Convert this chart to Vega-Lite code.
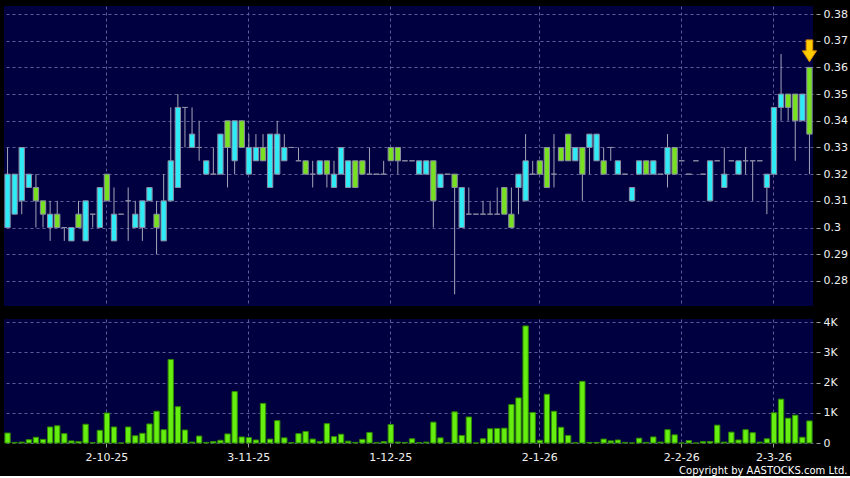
{
  "$schema": "https://vega.github.io/schema/vega-lite/v6.json",
  "background": "#000000",
  "padding": {"left": 4, "top": 6, "right": 4, "bottom": 0},
  "config": {
    "view": {"fill": "#000040", "stroke": null},
    "axis": {"domain": false, "gridColor": "#5c5c96", "gridDash": [3, 3], "gridWidth": 1, "tickColor": "#a0a0a0", "tickSize": 4, "labelColor": "#f0f0f0", "labelFont": "DejaVu Sans", "labelFontSize": 11, "title": null},
    "concat": {"spacing": 10}
  },
  "title": {"text": "Copyright by AASTOCKS.com Ltd.", "orient": "bottom", "anchor": "end", "color": "#ffffff", "fontSize": 10, "fontWeight": "normal", "font": "DejaVu Sans", "offset": 4},
  "datasets": {
    "d": [
{"i":0,"o":0.30,"c":0.32,"h":0.33,"l":0.30,"v":0.33},
{"i":1,"o":0.305,"c":0.32,"h":0.32,"l":0.305,"v":0.02},
{"i":2,"o":0.31,"c":0.33,"h":0.33,"l":0.305,"v":0.03},
{"i":3,"o":0.315,"c":0.32,"h":0.32,"l":0.315,"v":0.11},
{"i":4,"o":0.315,"c":0.31,"h":0.32,"l":0.30,"v":0.19},
{"i":5,"o":0.31,"c":0.305,"h":0.31,"l":0.30,"v":0.12},
{"i":6,"o":0.30,"c":0.305,"h":0.31,"l":0.295,"v":0.53},
{"i":7,"o":0.305,"c":0.30,"h":0.31,"l":0.30,"v":0.57},
{"i":8,"o":0.30,"c":0.30,"h":0.30,"l":0.295,"v":0.31},
{"i":9,"o":0.295,"c":0.30,"h":0.30,"l":0.295,"v":0.07},
{"i":10,"o":0.305,"c":0.30,"h":0.31,"l":0.30,"v":0.05},
{"i":11,"o":0.295,"c":0.31,"h":0.31,"l":0.295,"v":0.62},
{"i":12,"o":0.305,"c":0.305,"h":0.305,"l":0.30,"v":0.01},
{"i":13,"o":0.30,"c":0.315,"h":0.315,"l":0.30,"v":0.42},
{"i":14,"o":0.32,"c":0.31,"h":0.32,"l":0.31,"v":0.99},
{"i":15,"o":0.295,"c":0.305,"h":0.315,"l":0.295,"v":0.53},
{"i":16,"o":0.305,"c":0.305,"h":0.305,"l":0.305,"v":0},
{"i":17,"o":0.31,"c":0.31,"h":0.315,"l":0.295,"v":0.53},
{"i":18,"o":0.30,"c":0.305,"h":0.31,"l":0.30,"v":0.24},
{"i":19,"o":0.30,"c":0.31,"h":0.31,"l":0.295,"v":0.32},
{"i":20,"o":0.31,"c":0.315,"h":0.315,"l":0.31,"v":0.63},
{"i":21,"o":0.305,"c":0.30,"h":0.31,"l":0.29,"v":1.05},
{"i":22,"o":0.295,"c":0.31,"h":0.32,"l":0.295,"v":0.44},
{"i":23,"o":0.31,"c":0.325,"h":0.345,"l":0.31,"v":2.76},
{"i":24,"o":0.315,"c":0.345,"h":0.35,"l":0.315,"v":1.2},
{"i":25,"o":0.345,"c":0.345,"h":0.345,"l":0.33,"v":0.43},
{"i":26,"o":0.33,"c":0.335,"h":0.345,"l":0.33,"v":0.03},
{"i":27,"o":0.33,"c":0.33,"h":0.34,"l":0.325,"v":0.23},
{"i":28,"o":0.32,"c":0.325,"h":0.325,"l":0.32,"v":0.02},
{"i":29,"o":0.32,"c":0.32,"h":0.33,"l":0.32,"v":0.05},
{"i":30,"o":0.32,"c":0.335,"h":0.335,"l":0.32,"v":0.09},
{"i":31,"o":0.34,"c":0.33,"h":0.34,"l":0.315,"v":0.30},
{"i":32,"o":0.325,"c":0.34,"h":0.34,"l":0.32,"v":1.70},
{"i":33,"o":0.34,"c":0.33,"h":0.34,"l":0.33,"v":0.20},
{"i":34,"o":0.32,"c":0.33,"h":0.335,"l":0.32,"v":0.18},
{"i":35,"o":0.325,"c":0.33,"h":0.335,"l":0.325,"v":0.10},
{"i":36,"o":0.33,"c":0.325,"h":0.335,"l":0.325,"v":1.31},
{"i":37,"o":0.315,"c":0.335,"h":0.335,"l":0.315,"v":0.13},
{"i":38,"o":0.32,"c":0.335,"h":0.34,"l":0.32,"v":0.74},
{"i":39,"o":0.325,"c":0.33,"h":0.335,"l":0.325,"v":0.17},
{"i":40,"o":0.33,"c":0.33,"h":0.33,"l":0.33,"v":0.01},
{"i":41,"o":0.325,"c":0.325,"h":0.33,"l":0.325,"v":0.31},
{"i":42,"o":0.325,"c":0.32,"h":0.325,"l":0.32,"v":0.38},
{"i":43,"o":0.32,"c":0.32,"h":0.325,"l":0.315,"v":0.13},
{"i":44,"o":0.32,"c":0.325,"h":0.325,"l":0.32,"v":0.05},
{"i":45,"o":0.325,"c":0.32,"h":0.325,"l":0.315,"v":0.64},
{"i":46,"o":0.315,"c":0.32,"h":0.325,"l":0.315,"v":0.21},
{"i":47,"o":0.32,"c":0.33,"h":0.33,"l":0.32,"v":0.29},
{"i":48,"o":0.315,"c":0.325,"h":0.325,"l":0.315,"v":0.06},
{"i":49,"o":0.325,"c":0.315,"h":0.325,"l":0.315,"v":0.02},
{"i":50,"o":0.325,"c":0.32,"h":0.325,"l":0.32,"v":0.12},
{"i":51,"o":0.32,"c":0.32,"h":0.33,"l":0.32,"v":0.35},
{"i":52,"o":0.32,"c":0.32,"h":0.32,"l":0.32,"v":0.01},
{"i":53,"o":0.32,"c":0.32,"h":0.325,"l":0.32,"v":0.05},
{"i":54,"o":0.33,"c":0.325,"h":0.33,"l":0.325,"v":0.61},
{"i":55,"o":0.33,"c":0.325,"h":0.33,"l":0.32,"v":0.03},
{"i":56,"o":0.325,"c":0.325,"h":0.325,"l":0.325,"v":0.02},
{"i":57,"o":0.325,"c":0.325,"h":0.325,"l":0.325,"v":0.14},
{"i":58,"o":0.32,"c":0.325,"h":0.325,"l":0.32,"v":0.01},
{"i":59,"o":0.32,"c":0.325,"h":0.325,"l":0.32,"v":0.03},
{"i":60,"o":0.325,"c":0.31,"h":0.325,"l":0.30,"v":0.69},
{"i":61,"o":0.315,"c":0.32,"h":0.32,"l":0.315,"v":0.17},
{"i":62,"o":0.32,"c":0.32,"h":0.32,"l":0.32,"v":0},
{"i":63,"o":0.32,"c":0.315,"h":0.32,"l":0.275,"v":1.03},
{"i":64,"o":0.30,"c":0.315,"h":0.315,"l":0.30,"v":0.25},
{"i":65,"o":0.305,"c":0.305,"h":0.315,"l":0.305,"v":0.86},
{"i":66,"o":0.305,"c":0.305,"h":0.305,"l":0.305,"v":0},
{"i":67,"o":0.305,"c":0.305,"h":0.31,"l":0.305,"v":0.14},
{"i":68,"o":0.305,"c":0.305,"h":0.31,"l":0.305,"v":0.47},
{"i":69,"o":0.305,"c":0.305,"h":0.315,"l":0.305,"v":0.48},
{"i":70,"o":0.315,"c":0.305,"h":0.315,"l":0.305,"v":0.49},
{"i":71,"o":0.305,"c":0.30,"h":0.315,"l":0.30,"v":1.27},
{"i":72,"o":0.315,"c":0.32,"h":0.32,"l":0.305,"v":1.49},
{"i":73,"o":0.31,"c":0.325,"h":0.335,"l":0.31,"v":3.87},
{"i":74,"o":0.32,"c":0.32,"h":0.325,"l":0.32,"v":1.01},
{"i":75,"o":0.325,"c":0.32,"h":0.325,"l":0.32,"v":0.09},
{"i":76,"o":0.33,"c":0.315,"h":0.33,"l":0.315,"v":1.61},
{"i":77,"o":0.32,"c":0.32,"h":0.335,"l":0.315,"v":1.05},
{"i":78,"o":0.33,"c":0.325,"h":0.33,"l":0.325,"v":0.52},
{"i":79,"o":0.335,"c":0.325,"h":0.335,"l":0.325,"v":0.25},
{"i":80,"o":0.325,"c":0.33,"h":0.33,"l":0.325,"v":0.01},
{"i":81,"o":0.33,"c":0.32,"h":0.33,"l":0.31,"v":2.04},
{"i":82,"o":0.33,"c":0.335,"h":0.335,"l":0.32,"v":0.02},
{"i":83,"o":0.325,"c":0.335,"h":0.335,"l":0.325,"v":0.02},
{"i":84,"o":0.325,"c":0.32,"h":0.33,"l":0.32,"v":0.13},
{"i":85,"o":0.33,"c":0.33,"h":0.33,"l":0.325,"v":0.07},
{"i":86,"o":0.32,"c":0.325,"h":0.325,"l":0.32,"v":0.10},
{"i":87,"o":0.32,"c":0.32,"h":0.32,"l":0.32,"v":0.02},
{"i":88,"o":0.31,"c":0.315,"h":0.315,"l":0.31,"v":0},
{"i":89,"o":0.32,"c":0.325,"h":0.325,"l":0.32,"v":0.16},
{"i":90,"o":0.325,"c":0.32,"h":0.325,"l":0.32,"v":0.02},
{"i":91,"o":0.32,"c":0.325,"h":0.325,"l":0.32,"v":0.20},
{"i":92,"o":0.32,"c":0.32,"h":0.32,"l":0.32,"v":0.03},
{"i":93,"o":0.32,"c":0.33,"h":0.335,"l":0.315,"v":0.44},
{"i":94,"o":0.33,"c":0.32,"h":0.33,"l":0.32,"v":0.27},
{"i":95,"o":0.325,"c":0.325,"h":0.325,"l":0.325,"v":0},
{"i":96,"o":0.32,"c":0.32,"h":0.32,"l":0.32,"v":0.08},
{"i":97,"o":0.325,"c":0.325,"h":0.325,"l":0.325,"v":0},
{"i":98,"o":0.32,"c":0.32,"h":0.32,"l":0.32,"v":0.05},
{"i":99,"o":0.31,"c":0.325,"h":0.325,"l":0.31,"v":0.05},
{"i":100,"o":0.325,"c":0.325,"h":0.325,"l":0.325,"v":0.59},
{"i":101,"o":0.315,"c":0.32,"h":0.33,"l":0.315,"v":0.03},
{"i":102,"o":0.325,"c":0.325,"h":0.325,"l":0.325,"v":0.36},
{"i":103,"o":0.32,"c":0.325,"h":0.325,"l":0.32,"v":0.10},
{"i":104,"o":0.325,"c":0.325,"h":0.33,"l":0.32,"v":0.44},
{"i":105,"o":0.325,"c":0.325,"h":0.325,"l":0.31,"v":0.34},
{"i":106,"o":0.325,"c":0.325,"h":0.325,"l":0.325,"v":0.03},
{"i":107,"o":0.315,"c":0.32,"h":0.32,"l":0.305,"v":0.14},
{"i":108,"o":0.32,"c":0.345,"h":0.345,"l":0.32,"v":1.0},
{"i":109,"o":0.345,"c":0.35,"h":0.365,"l":0.34,"v":1.45},
{"i":110,"o":0.35,"c":0.345,"h":0.35,"l":0.34,"v":0.82},
{"i":111,"o":0.35,"c":0.34,"h":0.35,"l":0.325,"v":0.92},
{"i":112,"o":0.34,"c":0.35,"h":0.35,"l":0.34,"v":0.19},
{"i":113,"o":0.36,"c":0.335,"h":0.36,"l":0.32,"v":0.73}
    ],
    "marker": [{"i": 113, "p": 0.3662}]
  },
  "vconcat": [
    {
      "width": 809,
      "height": 300,
      "layer": [
        {
          "data": {"name": "d"},
          "mark": {"type": "rule", "color": "#a4a4b8", "strokeWidth": 1},
          "encoding": {
            "x": {"field": "i", "type": "ordinal", "scale": {"paddingInner": 0.25, "paddingOuter": 0.125},
                  "axis": {"values": [14, 34, 54, 75, 95, 108], "labels": false, "ticks": false, "grid": true, "minExtent": 0, "maxExtent": 0}},
            "y": {"field": "l", "type": "quantitative", "scale": {"domain": [0.2706, 0.383], "nice": false, "zero": false},
                  "axis": {"orient": "right", "values": [0.28, 0.29, 0.3, 0.31, 0.32, 0.33, 0.34, 0.35, 0.36, 0.37, 0.38], "format": ".2~f", "grid": true, "offset": 3, "tickSize": 4, "labelPadding": 3, "labelOverlap": false}},
            "y2": {"field": "h"}
          }
        },
        {
          "data": {"name": "d"},
          "mark": {"type": "bar", "stroke": "#8c8ca4", "strokeWidth": 1},
          "encoding": {
            "x": {"field": "i", "type": "ordinal",
                  "axis": {"values": [14, 34, 54, 75, 95, 108], "labels": false, "ticks": false, "grid": true, "minExtent": 0, "maxExtent": 0}},
            "y": {"field": "o", "type": "quantitative",
                  "axis": {"orient": "right", "values": [0.28, 0.29, 0.3, 0.31, 0.32, 0.33, 0.34, 0.35, 0.36, 0.37, 0.38], "format": ".2~f", "grid": true, "offset": 3, "tickSize": 4, "labelPadding": 3, "labelOverlap": false}},
            "y2": {"field": "c"},
            "color": {"condition": {"test": "datum.c > datum.o", "value": "#2eebf5"}, "value": "#77e020"}
          }
        },
        {
          "data": {"name": "marker"},
          "mark": {"type": "point", "filled": true, "shape": "M-0.3,-1L0.3,-1L0.3,0L0.65,0L0,1L-0.65,0L-0.3,0Z", "size": 480, "fill": "#ffcc00", "stroke": "#d98a00", "strokeWidth": 1, "opacity": 1},
          "encoding": {
            "x": {"field": "i", "type": "ordinal",
                  "axis": {"values": [14, 34, 54, 75, 95, 108], "labels": false, "ticks": false, "grid": true, "minExtent": 0, "maxExtent": 0}},
            "y": {"field": "p", "type": "quantitative",
                  "axis": {"orient": "right", "values": [0.28, 0.29, 0.3, 0.31, 0.32, 0.33, 0.34, 0.35, 0.36, 0.37, 0.38], "format": ".2~f", "grid": true, "offset": 3, "tickSize": 4, "labelPadding": 3, "labelOverlap": false}}
          }
        }
      ]
    },
    {
      "width": 809,
      "height": 124,
      "data": {"name": "d"},
      "mark": {"type": "bar", "color": "#66ee10", "stroke": "#2f8a00", "strokeWidth": 1},
      "encoding": {
        "x": {"field": "i", "type": "ordinal", "scale": {"paddingInner": 0.25, "paddingOuter": 0.125},
              "axis": {"values": [14, 34, 54, 75, 95, 108], "grid": true, "labelAngle": 0, "tickSize": 4, "labelPadding": 4,
                       "labelExpr": "datum.value == 14 ? '2-10-25' : datum.value == 34 ? '3-11-25' : datum.value == 54 ? '1-12-25' : datum.value == 75 ? '2-1-26' : datum.value == 95 ? '2-2-26' : '2-3-26'"}},
        "y": {"field": "v", "type": "quantitative", "scale": {"domain": [0, 4.1], "nice": false},
              "axis": {"orient": "right", "values": [0, 1, 2, 3, 4], "grid": true, "offset": 3, "tickSize": 4, "labelPadding": 3,
                       "labelExpr": "datum.value == 0 ? '0' : datum.value + 'K'"}}
      }
    }
  ]
}
